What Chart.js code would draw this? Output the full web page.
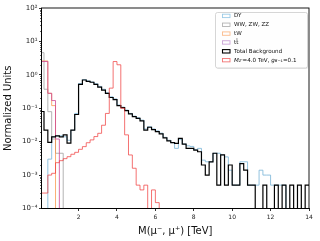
<!DOCTYPE html>
<html><head><meta charset="utf-8">
<script src="https://cdn.jsdelivr.net/npm/chart.js@4.4.1/dist/chart.umd.min.js"></script>
<style>html,body{margin:0;padding:0;background:#fff;}#wrap{width:320px;height:241px;}</style>
</head><body><div id="wrap"><canvas id="c" width="320" height="241"></canvas></div>
<script>
// ---- data ----
const binEdges = [0,0.2,0.4,0.6,0.8,1.0,1.2,1.4,1.6,1.8,2.0,2.2,2.4,2.6,2.8,3.0,3.2,3.4,3.6,3.8,
  4.0,4.2,4.4,4.6,4.8,5.0,5.2,5.4,5.6,5.8,6.0,6.2,6.4,6.6,6.8,7.0,7.2,7.4,7.6,7.8,
  8.0,8.2,8.4,8.6,8.8,9.0,9.2,9.4,9.6,9.8,10.0,10.2,10.4,10.6,10.8,11.0,11.2,11.4,11.6,11.8,
  12.0,12.2,12.4,12.6,12.8,13.0,13.2,13.4,13.6,13.8,14.0];
const seriesLabels = ["DY","WW, ZW, ZZ","tW","tt\u0304","Total Background","SIGNAL"];
const dyValues = [0,0,0.003,0.014,0.015,0.015,0.014,0.011,0.022,0.07,
  0.55,0.72,0.66,0.61,0.54,0.45,0.37,0.29,0.22,0.19,
  0.125,0.108,0.088,0.07,0.058,0.052,0.044,0.024,0.028,0.024,
  0.021,0.018,0.0135,0.011,0.0093,0.0063,0.0115,0.0085,0.0075,0.0072,
  0.0058,0.0063,0.0028,0.0025,0.0025,0.0045,0.0045,0.004,0.0035,0.0014,
  0.0005,0.0005,0.0025,0.0025,0.0005,0.0005,0.0005,0.0014,0.001,0.001,
  0.0005,0.0005,0.0005,0.0005,0,0,0,0,0,0];
const dibosonValues = [4.6,0.37,0.079,0.012,0.0045,0.0045,0,0,0,0,
  0,0,0,0,0,0,0,0,0,0, 0,0,0,0,0,0,0,0,0,0, 0,0,0,0,0,0,0,0,0,0,
  0,0,0,0,0,0,0,0,0,0, 0,0,0,0,0,0,0,0,0,0, 0,0,0,0,0,0,0,0,0,0];
const tWValues = [2.6,2.6,0.28,0.12,0,0,0,0,0,0,
  0,0,0,0,0,0,0,0,0,0, 0,0,0,0,0,0,0,0,0,0, 0,0,0,0,0,0,0,0,0,0,
  0,0,0,0,0,0,0,0,0,0, 0,0,0,0,0,0,0,0,0,0, 0,0,0,0,0,0,0,0,0,0];
const ttbarValues = [2.5,2.5,0.28,0.17,0.012,0,0,0,0,0,
  0,0,0,0,0,0,0,0,0,0, 0,0,0,0,0,0,0,0,0,0, 0,0,0,0,0,0,0,0,0,0,
  0,0,0,0,0,0,0,0,0,0, 0,0,0,0,0,0,0,0,0,0, 0,0,0,0,0,0,0,0,0,0];
const totalBkgValues = [0.08,0.022,0.0095,0.014,0.015,0.014,0.016,0.009,0.022,0.065,
  0.52,0.70,0.64,0.60,0.52,0.43,0.35,0.28,0.21,0.18,
  0.12,0.105,0.085,0.068,0.056,0.05,0.042,0.022,0.027,0.023,
  0.020,0.017,0.013,0.0105,0.0093,0.0089,0.0126,0.0085,0.0063,0.0063,
  0.0056,0.005,0.002,0.001,0.0025,0.0045,0.0005,0.004,0.0005,0.002,
  0.0005,0.0005,0.0022,0.0014,0.0005,0.0005,0,0,0.0005,0,
  0,0.0005,0,0.0005,0,0.0005,0,0.0005,0,0.0005];
const signalValues = [0.00029,0.00029,0.001,0.00113,0.00235,0.0027,0.0031,0.00355,0.0042,0.0048,
  0.0059,0.0071,0.0093,0.0113,0.0142,0.0178,0.031,0.07,0.40,2.5,
  2.0,0.10,0.016,0.004,0.0016,0.0005,0.00036,0.0005,0,0.00036,
  0.00015,0,0,0,0,0,0,0,0,0, 0,0,0,0,0,0,0,0,0,0,
  0,0,0,0,0,0,0,0,0,0, 0,0,0,0,0,0,0,0,0,0];
const xTickValues = [2,4,6,8,10,12,14];
const yTickValues = [1e-4,1e-3,1e-2,1e-1,1,10,100];
const yTickLabels = ["10\u207B\u2074","10\u207B\u00B3","10\u207B\u00B2","10\u207B\u00B9","10\u2070","10\u00B9","10\u00B2"];

// ---- styling ----
const FONT = "'DejaVu Sans', sans-serif";
const lineColors = ['rgba(120,180,215,0.8)','rgba(160,160,160,0.8)','rgba(250,150,70,0.75)','rgba(205,70,145,0.8)','#000000','rgba(240,60,60,0.72)'];
const legendColors = ['rgba(130,190,225,0.8)','rgba(160,160,160,0.8)','rgba(250,170,110,0.8)','rgba(190,140,205,0.8)','#000000','rgba(240,90,90,0.85)'];
const widths = [1,1,1,1,1.2,1];
const ZERO_FLOOR = 1e-8;

function histData(vals){
  return binEdges.map((e,i)=>{
    const v = i < vals.length ? vals[i] : vals[vals.length-1];
    return {x:e, y: v>0 ? v : ZERO_FLOOR};
  });
}
const allSeries = [dyValues,dibosonValues,tWValues,ttbarValues,totalBkgValues,signalValues];
const orders = [5,4,3,2,1,0];
const datasets = allSeries.map((s,i)=>({
  label: seriesLabels[i], data: histData(s), borderColor: lineColors[i], borderWidth: widths[i],
  stepped: 'before', pointRadius: 0, fill: false, order: orders[i], clip: 0
}));

const extras = {
  id:'extras',
  afterDatasetsDraw(chart){
    const ctx = chart.ctx, a = chart.chartArea, ys = chart.scales.y;
    ctx.save();
    // minor ticks
    ctx.strokeStyle = '#000'; ctx.lineWidth = 0.6;
    for (let n=-4;n<2;n++){ for(let k=2;k<10;k++){
      const py = Math.round(ys.getPixelForValue(k*Math.pow(10,n)))+0.5;
      ctx.beginPath(); ctx.moveTo(a.left-1.5,py); ctx.lineTo(a.left,py); ctx.stroke();
    }}
    // frame
    ctx.lineWidth = 0.9; ctx.strokeStyle='#000';
    ctx.strokeRect(a.left, a.top, a.right-a.left, a.bottom-a.top);
    // legend
    const bx=215.5, by=12.5, bw=92, bh=55.5;
    ctx.fillStyle='rgba(0,0,0,0.08)';
    ctx.beginPath(); ctx.roundRect(bx+1,by+1,bw,bh,2); ctx.fill();
    ctx.fillStyle='rgba(255,255,255,0.95)'; ctx.strokeStyle='#cccccc'; ctx.lineWidth=0.8;
    ctx.beginPath(); ctx.roundRect(bx,by,bw,bh,2); ctx.fill(); ctx.stroke();
    const fs = 5.6;
    ctx.textBaseline='middle'; ctx.textAlign='left';
    for (let i=0;i<seriesLabels.length;i++){
      const cy = 15.9 + i*8.85;
      ctx.strokeStyle = legendColors[i]; ctx.lineWidth = (i===4)?1.1:0.9;
      ctx.strokeRect(222.5, cy-1.7, 7.5, 3.4);
      ctx.fillStyle='#111';
      if (i<5){
        ctx.font = fs+'px '+FONT;
        ctx.fillText(seriesLabels[i], 234, cy);
      } else {
        const parts = [['M','italic ',fs,0],["Z'",'italic ',fs*0.7,1.2],['=4.0 TeV, ','',fs,0],['g','italic ',fs,0],['B\u2212L','italic ',fs*0.7,1.2],['=0.1','',fs,0]];
        let x = 234;
        for (const p of parts){ ctx.font = p[1]+p[2]+'px '+FONT; ctx.fillText(p[0], x, cy+p[3]); x += ctx.measureText(p[0]).width; }
      }
    }
    ctx.restore();
  }
};

new Chart(document.getElementById('c'), {
  type:'line',
  data:{datasets},
  options:{
    responsive:false, animation:false, devicePixelRatio:1,
    layout:{padding:{left:0,right:11,top:8,bottom:0}},
    plugins:{legend:{display:false},tooltip:{enabled:false}},
    scales:{
      x:{type:'linear',min:0.07,max:14,
        afterBuildTicks(s){ s.ticks = xTickValues.map(v=>({value:v})); },
        afterFit(s){ s.height = 32.5; },
        grid:{drawOnChartArea:false,drawTicks:true,tickLength:2.5,tickColor:'#000',tickWidth:0.8},
        border:{display:true,color:'#000',width:0.9},
        ticks:{font:{family:FONT,size:6},color:'#222',padding:2.5,maxRotation:0,autoSkip:false},
        title:{display:true,text:'M(\u03BC\u207B, \u03BC\u207A) [TeV]',font:{family:FONT,size:10},color:'#111',padding:{top:0,bottom:4}}
      },
      y:{type:'logarithmic',min:1e-4,max:100,
        afterBuildTicks(s){ s.ticks = yTickValues.map(v=>({value:v})); },
        afterFit(s){ s.width = 41.5; },
        grid:{drawOnChartArea:false,drawTicks:true,tickLength:2.5,tickColor:'#000',tickWidth:0.8},
        border:{display:true,color:'#000',width:0.9},
        ticks:{font:{family:FONT,size:7},color:'#222',padding:1.5,autoSkip:false,
          callback(v,i){ return yTickLabels[yTickValues.indexOf(v)] ?? ''; }},
        title:{display:true,text:'Normalized Units',font:{family:FONT,size:10},color:'#111',padding:{top:2,bottom:0}}
      }
    }
  },
  plugins:[extras]
});
</script></body></html>
